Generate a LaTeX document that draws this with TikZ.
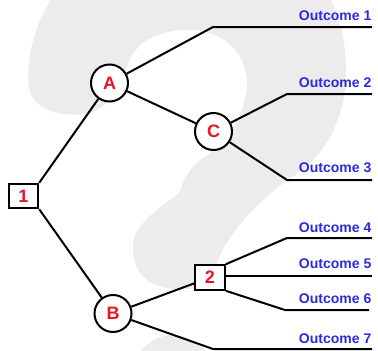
\documentclass[tikz,border=0pt]{standalone}
\usepackage{fontspec}
\setmainfont{Liberation Sans}
\definecolor{qgray}{RGB}{236,236,236}
\definecolor{lblue}{RGB}{45,40,225}
\definecolor{nred}{RGB}{235,20,35}
\begin{document}
\begin{tikzpicture}[x=1pt,y=-1pt,
  edge/.style={line width=2pt, draw=black},
  chance/.style={circle, draw=black, line width=2pt, fill=white, minimum size=37pt, inner sep=0pt, text=nred, font=\fontsize{18}{18}\selectfont\bfseries},
  decision/.style={rectangle, draw=black, line width=2pt, fill=white, minimum width=29.5pt, minimum height=24.5pt, inner sep=0pt, text=nred, font=\fontsize{18}{18}\selectfont\bfseries},
  outlabel/.style={anchor=base east, inner sep=0pt, text=lblue, font=\fontsize{14}{14}\selectfont\bfseries}]
\useasboundingbox (0,0) rectangle (378,351);
% background question mark
\begin{scope}
\clip (0,0) rectangle (378,351);
\fill[qgray] (28,80)
  .. controls (28,-15) and (110,-75) .. (200,-75)
  .. controls (290,-75) and (346,-15) .. (346,70)
  .. controls (346,120) and (325,155) .. (295,175)
  .. controls (260,198) and (225,235) .. (215,268)
  .. controls (208,288) and (195,290) .. (175,289)
  .. controls (145,287) and (132,270) .. (133,245)
  .. controls (134,222) and (165,205) .. (180,192)
  .. controls (183,180) and (190,168) .. (200,160)
  .. controls (225,145) and (246,115) .. (247,85)
  .. controls (248,55) and (225,30) .. (189,30)
  .. controls (160,30) and (135,40) .. (127,67)
  .. controls (120,90) and (105,112) .. (85,114)
  .. controls (60,117) and (28,110) .. (28,80) -- cycle;
\fill[qgray] (173,380) ellipse [x radius=42pt, y radius=45pt];
\end{scope}
% nodes
\node[decision] (n1) at (23.5,196) {1};
\node[chance] (A) at (109.5,83) {A};
\node[chance] (C) at (213.5,131.5) {C};
\node[chance] (B) at (113,313.5) {B};
\node[decision] (n2) at (210,277.5) {2};
% outcome ends
\coordinate (o1a) at (213,27);  \coordinate (o1b) at (372,27);
\coordinate (o2a) at (287,94);  \coordinate (o2b) at (372,94);
\coordinate (o3a) at (287,180); \coordinate (o3b) at (372,180);
\coordinate (o4a) at (287,238); \coordinate (o4b) at (372,238);
\coordinate (o5b) at (372,276);
\coordinate (o6a) at (285,310); \coordinate (o6b) at (369,310);
\coordinate (o7a) at (213,349); \coordinate (o7b) at (372,349);
% connectors
\draw[edge] (n1.north east) -- (A);
\draw[edge] (n1.south east) -- (B);
\draw[edge] (A) -- (o1a) -- (o1b);
\draw[edge] (A) -- (C);
\draw[edge] (C) -- (o2a) -- (o2b);
\draw[edge] (C) -- (o3a) -- (o3b);
\draw[edge] (B) -- (n2);
\draw[edge] (n2.north east) -- (o4a) -- (o4b);
\draw[edge] (n2.east |- o5b) -- (o5b);
\draw[edge] (n2.south east) -- (o6a) -- (o6b);
\draw[edge] (B) -- (o7a) -- (o7b);
% labels
\node[outlabel] (l1) at (371.5,20.5) {Outcome 1};
\node[outlabel] (l2) at (371.5,87) {Outcome 2};
\node[outlabel] (l3) at (371.5,172.5) {Outcome 3};
\node[outlabel] (l4) at (371.5,232) {Outcome 4};
\node[outlabel] (l5) at (371.5,268.5) {Outcome 5};
\node[outlabel] (l6) at (371.5,303) {Outcome 6};
\node[outlabel] (l7) at (371.5,343) {Outcome 7};
\end{tikzpicture}
\end{document}
